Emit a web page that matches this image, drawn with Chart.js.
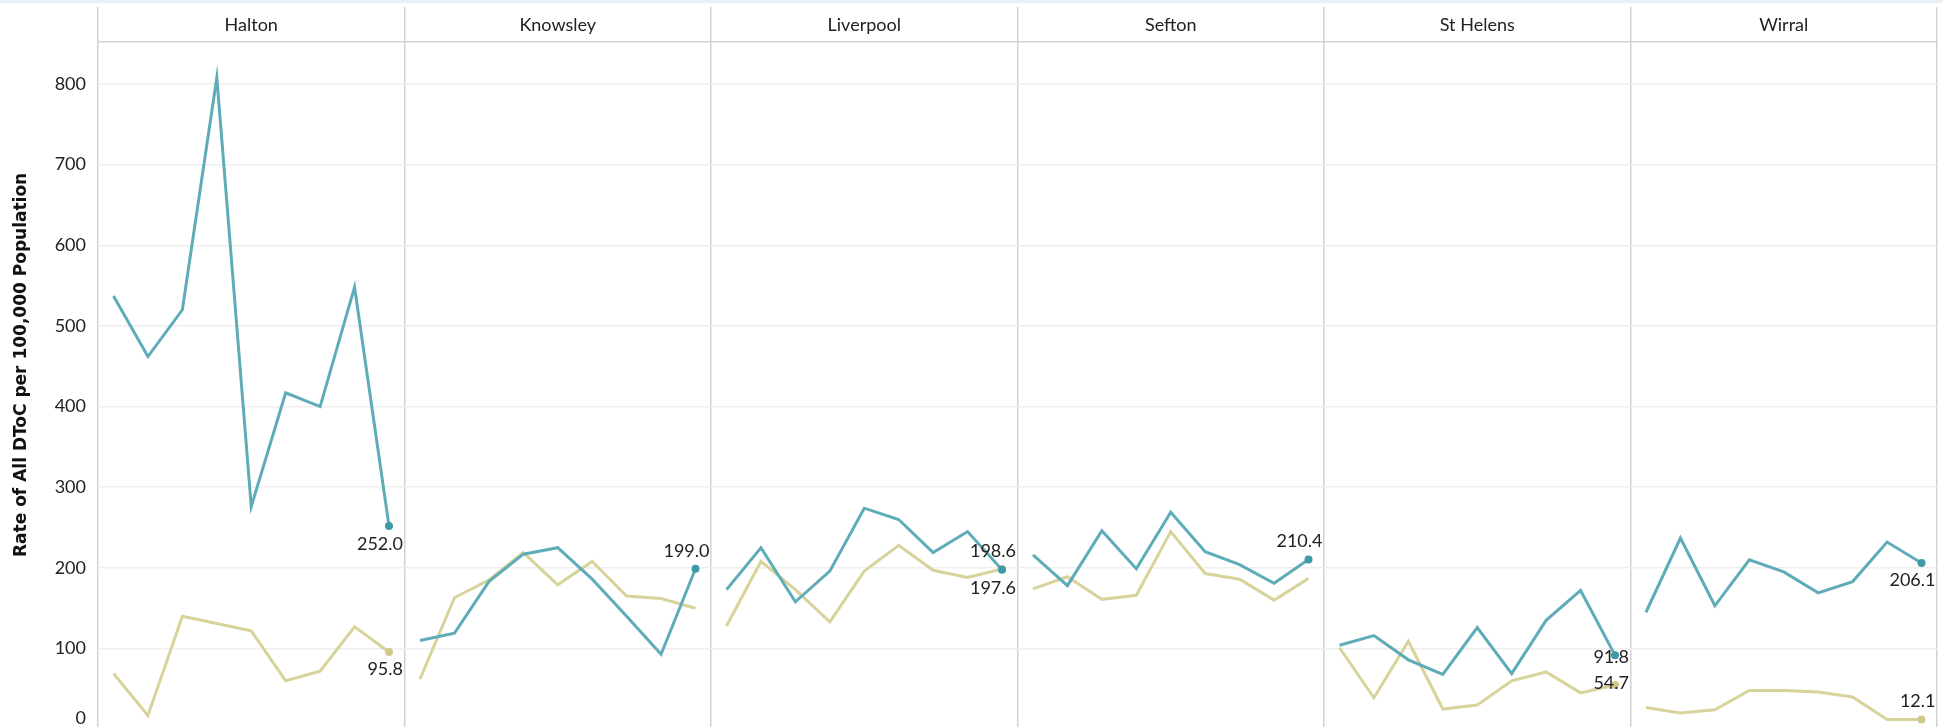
<!DOCTYPE html>
<html>
<head>
<meta charset="utf-8">
<script src="https://cdn.jsdelivr.net/npm/chart.js@4/dist/chart.umd.min.js"></script>
<style>
  html, body { margin:0; padding:0; background:#fff; overflow:hidden; }
  #wrap { position:relative; width:1943px; height:740px; }
  #band { position:absolute; left:0; top:0; width:1943px; height:3px; background:#e6f0f5; }
</style>
</head>
<body>
<div id="wrap">
  <canvas id="chart" width="1943" height="740"></canvas>
  <div id="band"></div>
</div>
<script>
// panels, one per local authority
const areas = ["Halton", "Knowsley", "Liverpool", "Sefton", "St Helens", "Wirral"];

// teal series, 9 periods per area
const tealSeries = [
    [537, 462, 520, 808, 276, 417, 400, 548, 252.0],
    [110, 119, 183, 217, 225, 186, 140, 93, 199.0],
    [173, 225, 158, 196, 274, 260, 219, 245, 197.6],
    [216, 178, 246, 199, 269, 220, 204, 181, 210.4],
    [104, 116, 86, 68, 126, 69, 135, 172, 91.8],
    [145, 237, 153, 210, 195, 169, 183, 232, 206.1]
];

// khaki series
const khakiSeries = [
    [69, 17, 140, 131, 122, 60, 72, 127, 95.8],
    [62, 163, 185, 219, 179, 208, 165, 162, 150],
    [128, 208, 173, 133, 196, 228, 197, 188, 198.6],
    [174, 189, 161, 166, 245, 193, 186, 160, 187],
    [101, 39, 109, 25, 30, 60, 71, 45, 54.7],
    [27, 20, 24, 48, 48, 46, 40, 12, 12.1]
];

const yTicks = [0, 100, 200, 300, 400, 500, 600, 700, 800];

// end-of-line label placement (pixels above/below the last point, null = no label)
const tealLabelShift  = [18, -18, 18, -18, 2, 17];
const khakiLabelShift = [17, null, -18, null, -2, -18];

const TEAL = "#5eacb8";
const TEAL_DOT = "#3f9aa8";
const KHAKI = "#d8d39b";
const KHAKI_DOT = "#cfca8c";

const PANEL = 8.9;      // x units per panel
const EDGE = 0.45;      // gap before first point

function toPoints(values, p){
    return values.map((v, i) => ({ x: p * PANEL + EDGE + i, y: v }));
}

function makeSet(values, p, color, dot, shift){
    const last = values.length - 1;
    const hasEnd = shift !== null;
    return {
        data: toPoints(values, p),
        borderColor: color,
        backgroundColor: dot,
        borderWidth: 3,
        tension: 0,
        pointRadius: c => (hasEnd && c.dataIndex === last) ? 4 : 0,
        pointBorderWidth: 0,
        pointBackgroundColor: dot,
        panel: p,
        endShift: shift
    };
}

const datasets = [];
areas.forEach((a, p) => datasets.push(makeSet(tealSeries[p], p, TEAL, TEAL_DOT, tealLabelShift[p])));
areas.forEach((a, p) => datasets.push(makeSet(khakiSeries[p], p, KHAKI, KHAKI_DOT, khakiLabelShift[p])));

const boundaries = areas.map((a, p) => p * PANEL).concat([areas.length * PANEL]);
const centers = areas.map((a, p) => p * PANEL + PANEL / 2);

const endLabels = {
    id: "endLabels",
    afterDatasetsDraw(chart){
        const ctx = chart.ctx;
        const xs = chart.scales.x;
        ctx.save();
        ctx.font = "18px Lato";
        ctx.fillStyle = "#222";
        ctx.textAlign = "right";
        ctx.textBaseline = "middle";
        chart.data.datasets.forEach((ds, i) => {
            if (ds.endShift === null) return;
            const meta = chart.getDatasetMeta(i);
            const pt = meta.data[meta.data.length - 1];
            const v = ds.data[ds.data.length - 1].y;
            const right = xs.getPixelForValue((ds.panel + 1) * PANEL) - 1.5;
            ctx.fillText(v.toFixed(1), right, pt.y + ds.endShift);
        });
        ctx.restore();
    }
};

Chart.defaults.font.family = "Lato";
Chart.defaults.color = "#222";

new Chart(document.getElementById("chart"), {
    type: "line",
    data: { datasets: datasets },
    options: {
        responsive: false,
        animation: false,
        events: [],
        layout: { padding: { left: 0, right: 6, top: 0, bottom: 10.8 } },
        plugins: { legend: { display: false }, tooltip: { enabled: false } },
        scales: {
            x: {
                type: "linear",
                min: 0,
                max: areas.length * PANEL,
                afterBuildTicks: s => { s.ticks = boundaries.map(v => ({ value: v })); },
                afterFit: s => { s.height = 0; s.paddingLeft = 0; s.paddingRight = 0; },
                ticks: { display: false },
                grid: { color: "#d2d2d2", lineWidth: 1.5, drawTicks: false },
                border: { display: false }
            },
            x2: {
                type: "linear",
                position: "top",
                min: 0,
                max: areas.length * PANEL,
                afterBuildTicks: s => {
                    s.ticks = boundaries.concat(centers).sort((a, b) => a - b).map(v => ({ value: v }));
                },
                afterFit: s => { s.height = 42; s.paddingLeft = 0; s.paddingRight = 0; },
                ticks: {
                    autoSkip: false,
                    maxRotation: 0,
                    padding: -29,
                    font: { size: 18 },
                    color: "#222",
                    callback: v => {
                        const k = centers.findIndex(c => Math.abs(c - v) < 1e-6);
                        return k >= 0 ? areas[k] : "";
                    }
                },
                grid: {
                    drawOnChartArea: false,
                    drawTicks: true,
                    tickLength: 35,
                    lineWidth: 1.5,
                    tickColor: c => boundaries.some(b => Math.abs(b - c.tick.value) < 1e-6) ? "#d2d2d2" : "rgba(0,0,0,0)"
                },
                border: { display: true, color: "#d2d2d2", width: 1.5 }
            },
            y: {
                min: 0,
                max: 852,
                afterBuildTicks: s => { s.ticks = yTicks.map(v => ({ value: v })); },
                afterFit: s => { s.width = 98; s.paddingTop = 0; s.paddingBottom = 0; },
                ticks: {
                    padding: 12,
                    font: { size: 18 },
                    color: "#222",
                    callback: v => v === 0 ? ["0", ""] : String(v)
                },
                grid: { color: "#efefef", lineWidth: 1.5, drawTicks: false },
                border: { display: false },
                title: {
                    display: true,
                    // leading spaces lift the rotated title to sit where the original does
                    text: "       Rate of All DToC per 100,000 Population",
                    font: { family: "DejaVu Sans", size: 17, weight: "bold" },
                    color: "#111",
                    padding: { top: 11, bottom: 0 }
                }
            }
        }
    },
    plugins: [endLabels]
});
</script>
</body>
</html>
